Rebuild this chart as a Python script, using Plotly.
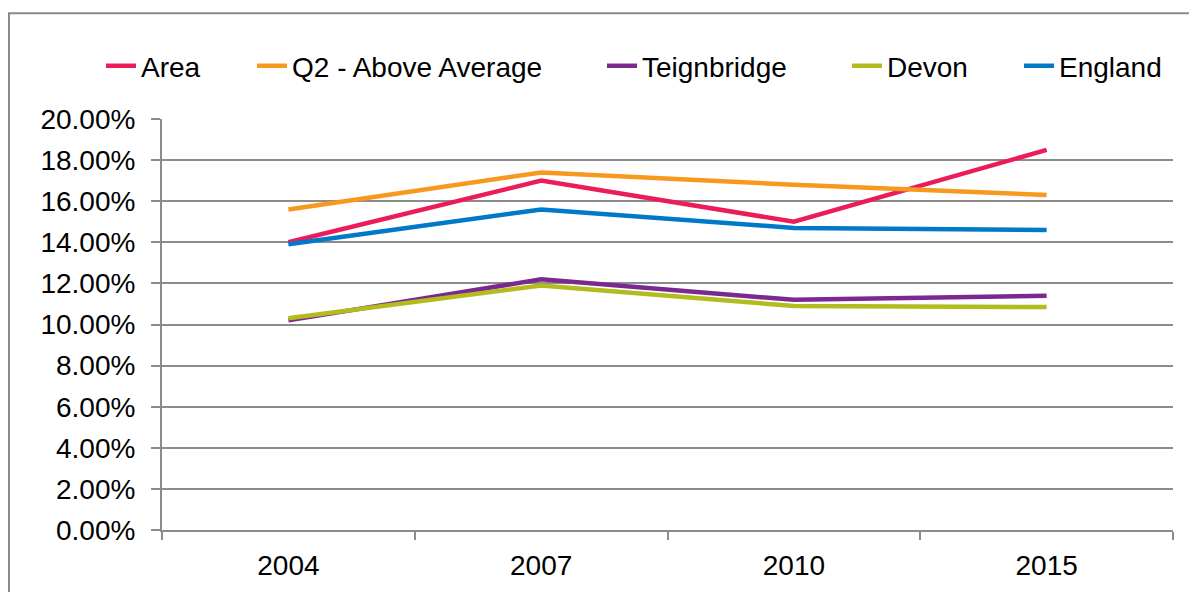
import plotly.graph_objects as go

years = ["2004", "2007", "2010", "2015"]
area = [0.140, 0.170, 0.150, 0.185]
q2_above_average = [0.156, 0.174, 0.168, 0.163]
teignbridge = [0.102, 0.122, 0.112, 0.114]
devon = [0.103, 0.119, 0.109, 0.1085]
england = [0.139, 0.156, 0.147, 0.146]

series = [
    ("Area", area, "#EC1C5A"),
    ("Q2 - Above Average", q2_above_average, "#F7981F"),
    ("Teignbridge", teignbridge, "#7B2990"),
    ("Devon", devon, "#B2BC1E"),
    ("England", england, "#0079C9"),
]
# x pixel where each legend label's text begins
legend_text_x = [141, 292, 642, 887, 1059]

W, H = 1189, 592
L, R, T, B = 162, 16, 119, 61.5
pw = W - L - R
ph = H - T - B

def px_x(p):
    return (p - L) / pw

def px_y(p):
    return (H - B - p) / ph

FS = 28
fig = go.Figure()
legend_layouts = {}
for i, (name, vals, col) in enumerate(series):
    lg = "legend" if i == 0 else f"legend{i+1}"
    fig.add_trace(go.Scatter(x=years, y=vals, name=name, mode="lines",
                             line=dict(color=col, width=4.5), legend=lg))
    legend_layouts[lg] = dict(orientation="h", x=px_x(legend_text_x[i] - 40),
                              xanchor="left", y=px_y(66), yanchor="middle",
                              font=dict(size=FS), bgcolor="rgba(0,0,0,0)",
                              borderwidth=0)

fig.add_shape(type="rect", xref="paper", yref="paper",
              x0=px_x(9), x1=px_x(1200), y0=px_y(13), y1=px_y(620),
              line=dict(color="#8a8a8a", width=2), fillcolor="rgba(0,0,0,0)",
              layer="below")

grid = "#8c8c8c"
fig.update_layout(
    width=W, height=H,
    margin=dict(l=L, r=R, t=T, b=B, pad=0, autoexpand=False),
    paper_bgcolor="white", plot_bgcolor="white",
    font=dict(family="Arial, Liberation Sans, sans-serif", size=FS, color="black"),
    showlegend=True,
    xaxis=dict(type="category", range=[-0.5, 3.5], tickson="boundaries",
               showgrid=False, showline=True, linecolor=grid, linewidth=2,
               ticks="outside", ticklen=8, tickwidth=2, tickcolor=grid,
               ticklabelstandoff=9, zeroline=False, automargin=False),
    yaxis=dict(range=[0, 0.2], dtick=0.02, tickformat=".2%",
               showgrid=True, gridcolor=grid, gridwidth=2,
               showline=True, linecolor=grid, linewidth=2,
               ticks="outside", ticklen=9, tickwidth=2, tickcolor=grid,
               ticklabelstandoff=10, zeroline=False, automargin=False),
    **legend_layouts,
)

fig.write_html("out.html", config={"displayModeBar": False},
               post_script="document.body.style.margin='0';document.body.style.overflow='hidden';")
